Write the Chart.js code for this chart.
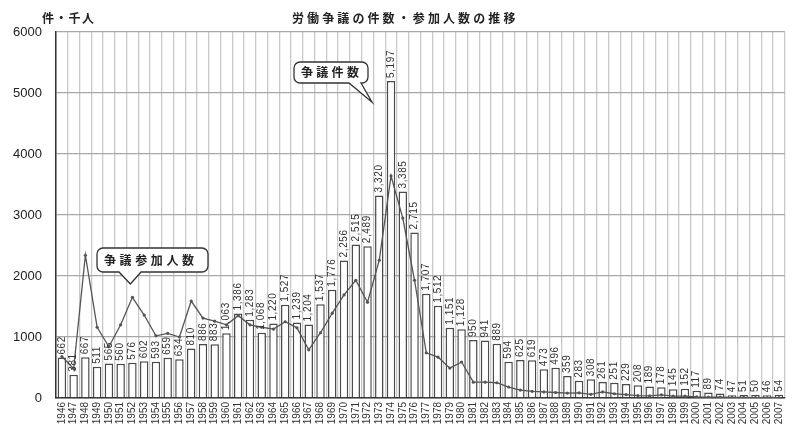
<!DOCTYPE html>
<html><head><meta charset="utf-8">
<script src="https://cdn.jsdelivr.net/npm/chart.js@4.4.1/dist/chart.umd.min.js"></script>
<style>html,body{margin:0;padding:0;background:#fff}#wrap{width:795px;height:429px;position:relative}</style>
</head><body><div id="wrap"><canvas id="c" width="795" height="429"></canvas></div>
<script>
const years = ['1946','1947','1948','1949','1950','1951','1952','1953','1954','1955','1956','1957','1958','1959','1960','1961','1962','1963','1964','1965','1966','1967','1968','1969','1970','1971','1972','1973','1974','1975','1976','1977','1978','1979','1980','1981','1982','1983','1984','1985','1986','1987','1988','1989','1990','1991','1992','1993','1994','1995','1996','1997','1998','1999','2000','2001','2002','2003','2004','2005','2006','2007'];
const disputes = [662,381,667,511,565,560,576,602,593,659,634,810,886,883,1063,1386,1283,1068,1220,1527,1239,1204,1537,1776,2256,2515,2489,3320,5197,3385,2715,1707,1512,1151,1128,950,941,889,594,625,619,473,496,359,283,308,261,251,229,208,189,178,145,152,117,89,74,47,51,50,46,54];
const participants = [680,480,2340,1160,840,1200,1650,1360,1020,1060,1000,1590,1310,1260,1200,1350,1200,1160,1130,1250,1150,790,1070,1390,1690,1930,1570,2260,3640,2950,1930,740,670,490,590,260,260,250,180,130,110,100,90,80,85,60,100,70,55,40,35,50,30,30,20,15,15,10,10,5,8,5];
const yTicks = [0,1000,2000,3000,4000,5000,6000];
const titleText = '労働争議の件数・参加人数の推移';
const unitText = '件・千人';
const barLabel = '争議件数';
const lineLabel = '争議参加人数';

const JP = '"Noto Sans CJK JP", "Noto Sans", sans-serif';

function spacedText(ctx, text, x, y, step) {
  for (let i = 0; i < text.length; i++) ctx.fillText(text[i], x + i * step, y);
}
function balloon(ctx, x, y, w, h, r, b1, b2, tx, ty) {
  ctx.beginPath();
  ctx.moveTo(x + r, y);
  ctx.lineTo(x + w - r, y);
  ctx.arcTo(x + w, y, x + w, y + r, r);
  ctx.lineTo(x + w, y + h - r);
  ctx.arcTo(x + w, y + h, x + w - r, y + h, r);
  ctx.lineTo(b2, y + h);
  ctx.lineTo(tx, ty);
  ctx.lineTo(b1, y + h);
  ctx.lineTo(x + r, y + h);
  ctx.arcTo(x, y + h, x, y + h - r, r);
  ctx.lineTo(x, y + r);
  ctx.arcTo(x, y, x + r, y, r);
  ctx.closePath();
  ctx.fillStyle = '#fff';
  ctx.fill();
  ctx.strokeStyle = '#333';
  ctx.lineWidth = 1.3;
  ctx.stroke();
}

const decor = {
  id: 'decor',
  afterDatasetsDraw(chart) {
    const ctx = chart.ctx;
    const xs = chart.scales.x, ys = chart.scales.y;
    const meta = chart.getDatasetMeta(1);
    ctx.save();
    ctx.fillStyle = '#333';
    ctx.font = '10px "Liberation Sans", Arial, sans-serif';
    ctx.letterSpacing = '0.6px';
    ctx.textAlign = 'left';
    ctx.textBaseline = 'middle';
    meta.data.forEach((el, i) => {
      ctx.save();
      ctx.translate(el.x, el.y - 3);
      ctx.rotate(-Math.PI / 2);
      ctx.fillText(disputes[i].toLocaleString('en-US'), 0, 0);
      ctx.restore();
    });
    ctx.restore();

    ctx.save();
    const t1x = xs.getPixelForValue(28) - 19, t1y = ys.getPixelForValue(4850);
    balloon(ctx, 294, 62, 74, 21, 6, 349, 361, t1x, t1y);
    const t2x = xs.getPixelForValue(6) - 2, t2y = ys.getPixelForValue(1870);
    balloon(ctx, 97, 248, 111, 24, 6, 119, 141, t2x, t2y);
    ctx.fillStyle = '#222';
    ctx.font = 'bold 12px ' + JP;
    ctx.textBaseline = 'middle';
    ctx.textAlign = 'left';
    spacedText(ctx, barLabel, 301, 72.5, 15.3);
    spacedText(ctx, lineLabel, 104, 260, 15.6);
    ctx.restore();
  },
  afterDraw(chart) {
    const ctx = chart.ctx;
    ctx.save();
    ctx.fillStyle = '#222';
    ctx.textBaseline = 'middle';
    ctx.textAlign = 'left';
    ctx.font = 'bold 12px ' + JP;
    spacedText(ctx, titleText, 292, 18, 15.1);
    spacedText(ctx, unitText, 42, 18, 13.3);
    ctx.restore();
  }
};

new Chart(document.getElementById('c'), {
  data: {
    labels: years,
    datasets: [
      {
        type: 'line',
        label: lineLabel,
        data: participants,
        borderColor: '#555',
        borderWidth: 1.3,
        pointRadius: 1.6,
        pointBackgroundColor: '#555',
        pointBorderWidth: 0,
        tension: 0,
        order: 0
      },
      {
        type: 'bar',
        label: barLabel,
        data: disputes,
        backgroundColor: '#ffffff',
        borderColor: '#4a4a4a',
        borderWidth: 1.5,
        categoryPercentage: 1.0,
        barPercentage: 0.72,
        order: 1
      }
    ]
  },
  options: {
    responsive: false,
    animation: false,
    devicePixelRatio: 1,
    layout: { padding: { top: 32, right: 1, left: 0, bottom: 0 } },
    plugins: { legend: { display: false }, tooltip: { enabled: false }, title: { display: false } },
    scales: {
      x: {
        grid: { color: '#c9c9c9', lineWidth: 1.3, offset: true, drawTicks: false },
        border: { color: '#333', width: 1.5 },
        ticks: { font: { size: 10, family: '"Liberation Sans", Arial, sans-serif' }, color: '#333', minRotation: 90, maxRotation: 90, autoSkip: false, padding: 4 },
        afterFit(s) { s.height = 31; }
      },
      y: {
        min: 0, max: 6000,
        afterBuildTicks(s) { s.ticks = yTicks.map(v => ({ value: v })); },
        grid: { color: '#a8a8a8', lineWidth: 1.3, drawTicks: false },
        border: { color: '#333', width: 1.5 },
        ticks: { font: { size: 13, family: '"Liberation Sans", Arial, sans-serif' }, color: '#222', padding: 14, callback: (v) => String(v) },
        afterFit(s) { s.width = 56; }
      }
    }
  },
  plugins: [decor]
});
</script>
</body></html>
